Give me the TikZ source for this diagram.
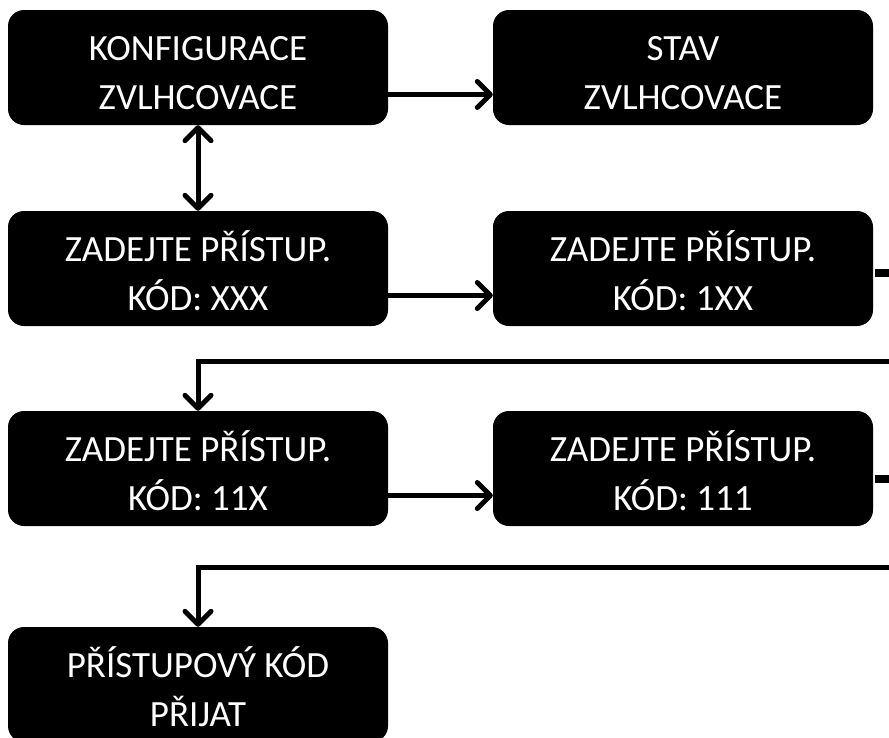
\documentclass[tikz,border=0pt]{standalone}
\usepackage{fontspec}
\setmainfont{Carlito}
\usetikzlibrary{arrows.meta,calc}
\newcommand{\lowerstrut}{\rule{0pt}{36pt}}
\begin{document}
\begin{tikzpicture}[x=1pt,y=-1pt,
  screen/.style={fill=black,text=white,rounded corners=16pt,
    minimum width=380pt,minimum height=115pt,inner sep=0pt,align=center,
    font=\fontsize{37}{49}\selectfont},
  arrowline/.style={line width=5pt,line join=miter,
    -{Straight Barb[length=13pt,width=26pt,line cap=round,line join=round]}},
  dblarrow/.style={line width=5pt,
    {Straight Barb[length=13pt,width=26pt,line cap=round,line join=round]}-{Straight Barb[length=13pt,width=26pt,line cap=round,line join=round]}},
  stub/.style={line width=8pt}]
\useasboundingbox (0,0) rectangle (889,737);
\clip (0,0) rectangle (889,737);

% display screens of the menu sequence
\node[screen] (b1) at (198,67.5) {\lowerstrut KONFIGURACE\\ZVLHCOVACE};
\node[screen] (b2) at (683,67.5) {\lowerstrut STAV\\ZVLHCOVACE};
\node[screen] (b3) at (198,268.5) {\lowerstrut ZADEJTE PŘÍSTUP.\\KÓD: XXX};
\node[screen] (b4) at (683,268.5) {\lowerstrut ZADEJTE PŘÍSTUP.\\KÓD: 1XX};
\node[screen] (b5) at (198,468.5) {\lowerstrut ZADEJTE PŘÍSTUP.\\KÓD: 11X};
\node[screen] (b6) at (683,468.5) {\lowerstrut ZADEJTE PŘÍSTUP.\\KÓD: 111};
\node[screen] (b7) at (198,684.5) {\lowerstrut PŘÍSTUPOVÝ KÓD\\PŘIJAT};

% transitions between screens
\draw[arrowline] ($(b1.east)+(0,27)$) -- ($(b2.west)+(0,27)$);
\draw[dblarrow] (b1.south) -- (b3.north);
\draw[arrowline] ($(b3.east)+(0,27)$) -- ($(b4.west)+(0,27)$);
\draw[arrowline] ($(b5.east)+(0,27)$) -- ($(b6.west)+(0,27)$);

% lines leaving to the right edge and returning to the next row
\coordinate (o4) at (889,272.5);
\coordinate (o6) at (889,478.5);
\coordinate (r1) at (889,361.5);
\coordinate (r2) at (889,567.5);
\draw[stub,shorten <=2pt] (b4.east |- o4) -- (o4);
\draw[stub,shorten <=2pt] (b6.east |- o6) -- (o6);
\draw[arrowline] (r1) -- (b5.north |- r1) -- (b5.north);
\draw[arrowline] (r2) -- (b7.north |- r2) -- (b7.north);
\end{tikzpicture}
\end{document}
